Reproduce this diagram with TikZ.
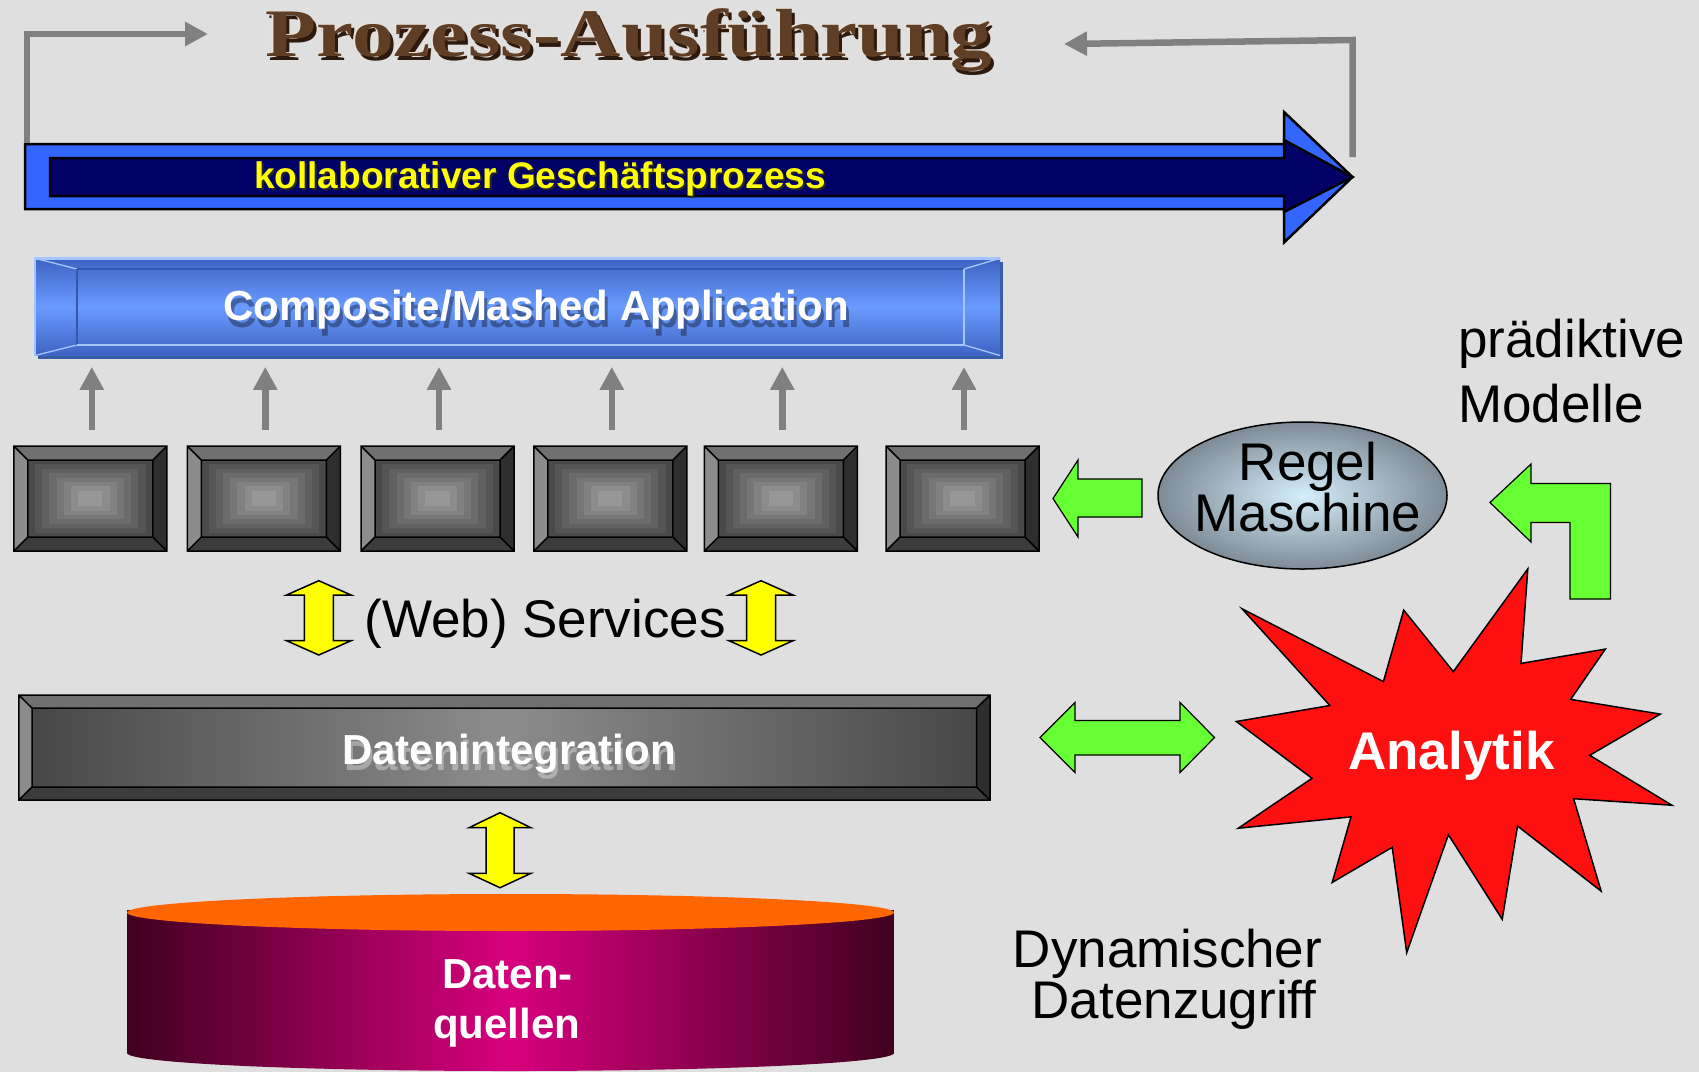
\documentclass[tikz,border=0pt]{standalone}
\usepackage{fontspec}
\usepackage{graphicx}
\setmainfont{Liberation Sans}
\newfontfamily\titlefont{Liberation Serif}
\usetikzlibrary{arrows.meta,shapes.geometric}
\definecolor{bgc}{HTML}{DFDFDF}
\definecolor{arrgray}{HTML}{808080}
\definecolor{blueA}{HTML}{3366FF}
\definecolor{navyA}{HTML}{000066}
\definecolor{greenA}{HTML}{66FF33}
\definecolor{yelA}{HTML}{FFFF00}
\definecolor{redA}{HTML}{FF1010}
\definecolor{appTop}{HTML}{3D63C2}
\definecolor{appMid}{HTML}{6A9BFF}
\definecolor{appDark}{HTML}{3A5CA6}
\definecolor{appLight}{HTML}{A6C4FF}
\definecolor{appEdge}{HTML}{3458AE}
\definecolor{orangeA}{HTML}{FF6600}
\definecolor{magA}{HTML}{D8007E}
\definecolor{maroonA}{HTML}{40001F}
\definecolor{ellIn}{HTML}{D4EEFB}
\definecolor{ellOut}{HTML}{7E8B97}
\definecolor{tBrown}{HTML}{5E3E24}
\definecolor{tShadow}{HTML}{2E1A0C}
\definecolor{tLight}{HTML}{E8E2DA}
\definecolor{bevTop}{HTML}{707070}
\definecolor{bevLeft}{HTML}{8C8C8C}
\definecolor{bevRight}{HTML}{2E2E2E}
\definecolor{bevBottom}{HTML}{3C3C3C}
\newcommand{\fA}[1]{\fontsize{#1pt}{#1pt}\selectfont}
\tikzset{
  lbl/.style={inner sep=0pt, anchor=base},
  grayarr/.style={draw=arrgray, line width=6.5pt, line join=miter, -{Triangle[length=23pt,width=23pt]}},
  greenblock/.style={fill=greenA, draw=black, line width=1.2pt},
  yellowblock/.style={fill=yelA, draw=black, line width=1.5pt},
  bevline/.style={draw=black, line width=1.5pt},
  holder/.style={inner sep=0pt, draw=none}
}
\begin{document}
\begin{tikzpicture}[x=1pt,y=-1pt]
\useasboundingbox (0,0) rectangle (1699,1072);
\fill[bgc] (0,0) rectangle (1699,1072);

% ---------- title ----------
\node[lbl, text=tShadow] at (632,60.5) {\titlefont\bfseries\fA{68}\scalebox{1.228}[1]{Prozess-Ausführung}};
\node[lbl, text=tLight] at (627,55) {\titlefont\bfseries\fA{68}\scalebox{1.228}[1]{Prozess-Ausführung}};
\node[lbl, text=tBrown] (title) at (629,56.7) {\titlefont\bfseries\fA{68}\scalebox{1.228}[1]{Prozess-Ausführung}};

% ---------- big process arrow ----------
\draw[fill=blueA, line width=2.5pt, line join=miter] (25,144) -- (1284,144) -- (1284,112) -- (1352.5,177) -- (1284,242.5) -- (1284,209) -- (25,209) -- cycle;
\draw[fill=navyA, line width=2.5pt, line join=miter] (50,158) -- (1284,158) -- (1284,140) -- (1352.5,177) -- (1284,212) -- (1284,196) -- (50,196) -- cycle;
\node[lbl, text=black!85] at (542,190.5) {\bfseries\fA{37}kollaborativer Geschäftsprozess};
\node[lbl, text=yelA] (kollab) at (540,188) {\bfseries\fA{37}kollaborativer Geschäftsprozess};

% ---------- gray loop arrows ----------
\coordinate (lstart) at (27,143);
\coordinate (lbend) at (27,34);
\coordinate (lend) at (208,34);
\coordinate (rstart) at (1352.5,157);
\coordinate (rbend) at (1352.5,40);
\coordinate (rend) at (1064,44);
\draw[grayarr] (lstart) -- (lbend) -- (lend);
\draw[grayarr] (rstart) -- (rbend) -- (rend);

% ---------- Composite/Mashed Application ----------
\fill[appDark] (38,262) rectangle (1003,359.3);
\shade[top color=appTop, bottom color=appTop, middle color=appMid] (35,258.3) rectangle (1000,355.5);
\draw[appLight, line width=1.3pt] (35,258.3)--(77,269) (35,355.5)--(77,345) (1000,258.3)--(964,269) (1000,355.5)--(964,345);
\draw[appEdge, line width=1.5pt] (77,269) -- (77,345) (77,269) -- (964,269);
\draw[appLight, line width=1.5pt] (77,345) -- (964,345) -- (964,269);
\draw[appLight, line width=2.5pt] (35,355.5) -- (35,258.3) -- (1000,258.3);
\node[holder, minimum width=968pt, minimum height=101pt] (app) at (519,308.5) {};
\node[lbl, text=black, opacity=0.35] at (539,327) {\bfseries\fA{42}Composite/Mashed Application};
\node[lbl, text=white] (apptxt) at (536,320.7) {\bfseries\fA{42}Composite/Mashed Application};

% ---------- six service boxes ----------
\foreach \i/\cx in {1/90.3,2/263.8,3/437.5,4/610.3,5/780.8,6/962.5}{
  \pgfmathsetmacro{\xl}{\cx-76.5}
  \pgfmathsetmacro{\xr}{\cx+76.5}
  \pgfmathsetmacro{\xil}{\cx-62.5}
  \pgfmathsetmacro{\xir}{\cx+62.5}
  \fill[bevTop] (\xl,446) -- (\xr,446) -- (\xir,460) -- (\xil,460) -- cycle;
  \fill[bevBottom] (\xl,551) -- (\xr,551) -- (\xir,537) -- (\xil,537) -- cycle;
  \fill[bevLeft] (\xl,446) -- (\xil,460) -- (\xil,537) -- (\xl,551) -- cycle;
  \fill[bevRight] (\xr,446) -- (\xir,460) -- (\xir,537) -- (\xr,551) -- cycle;
  \foreach \k in {0,...,7}{
    \pgfmathsetmacro{\gv}{71-\k*4.3}
    \fill[black!\gv] (\xil+\k*7.2,460+\k*4.4) rectangle (\xir-\k*7.2,537-\k*4.4);
  }
  \draw[bevline] (\xl,446) rectangle (\xr,551) (\xil,460) rectangle (\xir,537)
    (\xl,446) -- (\xil,460) (\xr,446) -- (\xir,460) (\xl,551) -- (\xil,537) (\xr,551) -- (\xir,537);
  \node[holder, minimum width=153pt, minimum height=105pt] (s\i) at (\cx,498.5) {};
}
\foreach \i in {1,...,6}{
  \draw[grayarr, shorten <=16pt, shorten >=7.7pt] ([xshift=1.5pt]s\i.north) -- ([xshift=1.5pt]s\i.north |- app.south);
}

% ---------- (Web) Services ----------
\foreach \cx/\ya/\yb/\yc/\yd/\hw/\sw in {318.8/580.7/595/640.7/655/32.2/14.5, 761/580.7/595/640.7/655/32/14.5, 500/812.7/827.7/873.3/887.7/31/14}{
  \draw[yellowblock, line join=miter] (\cx,\ya) -- (\cx+\hw,\yb) -- (\cx+\sw,\yb) -- (\cx+\sw,\yc) -- (\cx+\hw,\yc) -- (\cx,\yd) -- (\cx-\hw,\yc) -- (\cx-\sw,\yc) -- (\cx-\sw,\yb) -- (\cx-\hw,\yb) -- cycle;
}
\node[lbl] (web) at (545,637) {\fA{53}(Web) Services};

% ---------- Datenintegration ----------
\fill[bevTop] (18.75,695) -- (990,695) -- (976.5,708) -- (32,708) -- cycle;
\fill[bevBottom] (18.75,800) -- (990,800) -- (976.5,787) -- (32,787) -- cycle;
\fill[bevLeft] (18.75,695) -- (32,708) -- (32,787) -- (18.75,800) -- cycle;
\fill[bevRight] (990,695) -- (976.5,708) -- (976.5,787) -- (990,800) -- cycle;
\shade[left color=black!72, right color=black!72, middle color=black!45] (32,708) rectangle (976.5,787);
\draw[bevline] (18.75,695) rectangle (990,800) (32,708) rectangle (976.5,787)
  (18.75,695) -- (32,708) (990,695) -- (976.5,708) (18.75,800) -- (32,787) (990,800) -- (976.5,787);
\node[holder, minimum width=971pt, minimum height=105pt] (dint) at (504.4,747.5) {};
\node[lbl, text=white, opacity=0.35] at (511,770) {\bfseries\fA{42}Datenintegration};
\node[lbl, text=white] (dinttxt) at (509,764) {\bfseries\fA{42}Datenintegration};

% ---------- Datenquellen cylinder ----------
\shade[left color=maroonA, right color=maroonA, middle color=magA] (127,910) -- (127,1053) arc[start angle=180, end angle=0, x radius=383.5, y radius=18] -- (894,910) -- cycle;
\fill[orangeA] (510.5,912.5) ellipse [x radius=383.5, y radius=18.5];
\node[lbl, text=white] (dq1) at (507.4,988.3) {\bfseries\fA{42}Daten-};
\node[lbl, text=white] (dq2) at (506.7,1038.3) {\bfseries\fA{42}quellen};

% ---------- Regel Maschine ----------
\node[ellipse, draw=black, line width=1.5pt, inner color=ellIn, outer color=ellOut, minimum width=289pt, minimum height=147pt, inner sep=0pt] (regel) at (1302.5,495.5) {};
\node[lbl] (regel1) at (1308,480) {\fA{53}Regel};
\node[lbl] (regel2) at (1307.8,531) {\fA{53}Maschine};

% green arrow Regel -> boxes
\draw[greenblock, line join=miter] (1053,498.5) -- (1078,460) -- (1078,479) -- (1142,479) -- (1142,517) -- (1078,517) -- (1078,537) -- cycle;

% ---------- praediktive Modelle ----------
\node[lbl, anchor=base west] (pm1) at (1458,357.7) {\fA{53}prädiktive};
\node[lbl, anchor=base west] (pm2) at (1458,422) {\fA{53}Modelle};
\draw[greenblock, line join=miter] (1490,502.5) -- (1531,464) -- (1531,483.5) -- (1610.5,483.5) -- (1610.5,599) -- (1570,599) -- (1570,522.5) -- (1531,522.5) -- (1531,542) -- cycle;

% ---------- Analytik star ----------
\draw[fill=redA, draw=black, line width=1.5pt, line join=miter]
  (1242.1,608.8) -- (1329.9,705.5) -- (1236.4,721.5) -- (1312,778.3) -- (1238.3,828.2) -- (1351,816.9)
  -- (1332.2,882.4) -- (1392.2,847.3) -- (1406.7,952.6) -- (1448.4,834.7) -- (1502.2,919.3) -- (1517.5,826)
  -- (1601.1,891.1) -- (1573.6,798.7) -- (1671.8,805.2) -- (1589.7,755.3) -- (1660.3,714.1) -- (1570.6,699.4)
  -- (1605.3,649.1) -- (1521,663.4) -- (1527.8,568.9) -- (1453.3,671.6) -- (1403.7,610.1) -- (1383.4,681.6) -- cycle;
\node[lbl, text=white] (analytik) at (1451.4,769) {\bfseries\fA{53}Analytik};

% green double arrow Datenintegration <-> Analytik
\draw[greenblock, line join=miter] (1040,737.5) -- (1075,702.5) -- (1075,720.5) -- (1180,720.5) -- (1180,702.5) -- (1214.5,737.5) -- (1180,772.5) -- (1180,755) -- (1075,755) -- (1075,772.5) -- cycle;

% ---------- Dynamischer Datenzugriff ----------
\node[lbl] (dyn1) at (1167.5,967.5) {\fA{53}Dynamischer};
\node[lbl] (dyn2) at (1174,1018.5) {\fA{53}Datenzugriff};
\end{tikzpicture}
\end{document}
